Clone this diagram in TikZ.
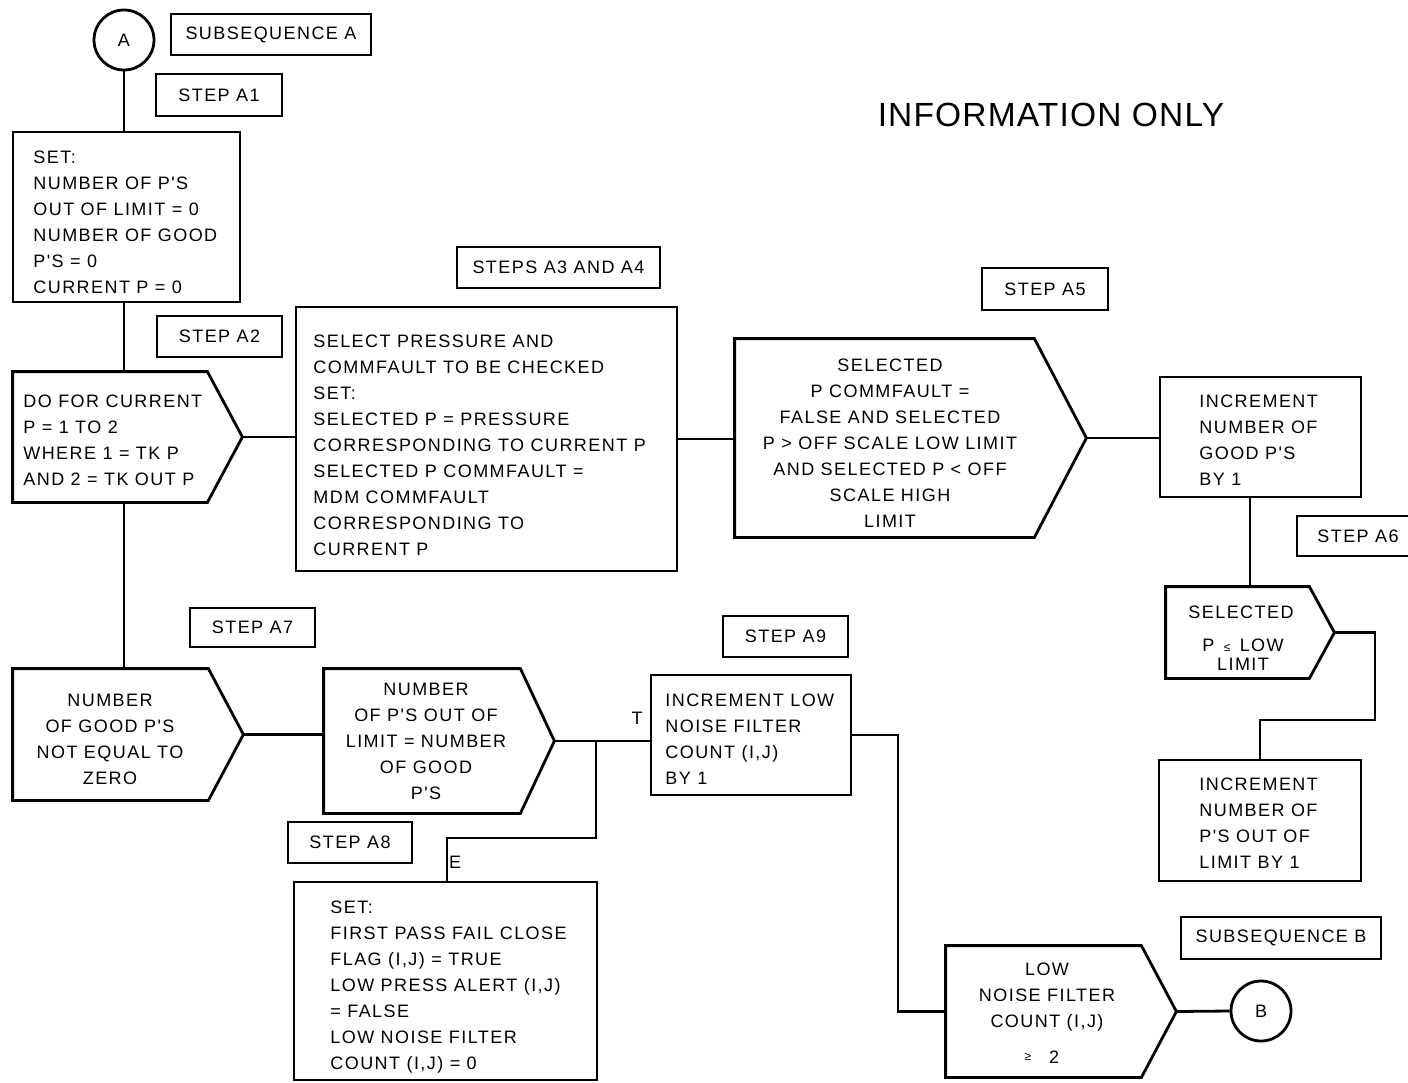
\documentclass[tikz,border=0pt]{standalone}
\usepackage{fontspec}
\setmainfont{Liberation Sans}[Ligatures=TeXOff, LetterSpace=8]
\usetikzlibrary{fit}
\newcommand\pentpath[2]{\draw[ln] (#1.north west) -- ([xshift=-#2]#1.north east) -- (#1.east) -- ([xshift=-#2]#1.south east) -- (#1.south west) -- cycle;}
\begin{document}
\begin{tikzpicture}[x=0.5pt,y=-0.5pt,
  ln/.style={line width=1.4pt, line join=miter},
  box/.style={draw, line width=1.4pt, inner sep=0pt},
  shp/.style={inner sep=0pt},
  circ/.style={circle, draw, line width=1.4pt, minimum size=30pt, inner sep=0pt, font=\fontsize{9}{13}\selectfont},
  txt/.style={inner sep=0pt, font=\fontsize{9}{13}\selectfont, align=left},
  ctxt/.style={txt, align=center},
  small/.style={inner sep=0pt, font=\fontsize{6}{7}\selectfont}]
\useasboundingbox (0,0) rectangle (1408,1082);

% start circle and labels
\node[circ] (cA) at (124,40) {A};
\node[box, fit={(171,14) (371,55)}] (lsubA) {};
\node[ctxt] (tsubA) at (lsubA.center) {SUBSEQUENCE A};
\node[box, fit={(156,74) (282,116)}] (lA1) {};
\node[ctxt] (tA1) at (lA1.center) {STEP A1};

\node[inner sep=0pt, font=\fontsize{16.75}{20}\selectfont\addfontfeature{LetterSpace=3.5}] (info) at (1051,115) {INFORMATION ONLY};

% A1 box
\node[box, fit={(13,132) (240,302)}] (a1) {};
\node[txt, anchor=west] (ta1) at (33,222) {SET:\\NUMBER OF P'S\\OUT OF LIMIT = 0\\NUMBER OF GOOD\\P'S = 0\\CURRENT P = 0};

% A2
\node[box, fit={(157,316) (282,357)}] (lA2) {};
\node[ctxt] (tA2) at (lA2.center) {STEP A2};
\node[shp, fit={(13,372) (242,502)}] (a2) {};
\pentpath{a2}{17.5pt}
\node[txt, anchor=west] (ta2) at (23,440) {DO FOR CURRENT\\P = 1 TO 2\\WHERE 1 = TK P\\AND 2 = TK OUT P};

% A3
\node[box, fit={(457,247) (660,288)}] (lA3) {};
\node[ctxt] (tA3) at (lA3.center) {STEPS A3 AND A4};
\node[box, fit={(296,307) (677,571)}] (a3) {};
\node[txt, anchor=west] (ta3) at (313,445) {SELECT PRESSURE AND\\COMMFAULT TO BE CHECKED\\SET:\\SELECTED P = PRESSURE\\CORRESPONDING TO CURRENT P\\SELECTED P COMMFAULT =\\MDM COMMFAULT\\CORRESPONDING TO\\CURRENT P};

% A5
\node[box, fit={(982,268) (1108,310)}] (lA5) {};
\node[ctxt] (tA5) at (lA5.center) {STEP A5};
\node[shp, fit={(735,339) (1086,537)}] (a5) {};
\pentpath{a5}{26pt}
\node[ctxt] (ta5) at (890,443) {SELECTED\\P COMMFAULT =\\FALSE AND SELECTED\\P > OFF SCALE LOW LIMIT\\AND SELECTED P < OFF\\SCALE HIGH\\LIMIT};

% A6
\node[box, fit={(1160,377) (1361,497)}] (a6) {};
\node[txt, anchor=west] (ta6) at (1199,440) {INCREMENT\\NUMBER OF\\GOOD P'S\\BY 1};
\node[box, fit={(1297,516) (1420,556)}] (lA6) {};
\node[ctxt] (tA6) at (1358,536) {STEP A6};
\node[shp, fit={(1166,587) (1334,678)}] (a6b) {};
\pentpath{a6b}{12.5pt}
\node[ctxt] (ta6b1) at (1241,612) {SELECTED};
\node[ctxt] (ta6b2) at (1243,645) {P \,{\fontsize{6}{7}\selectfont ≤}\, LOW};
\node[ctxt] (ta6b3) at (1243,664) {LIMIT};
\node[box, fit={(1159,760) (1361,881)}] (a6c) {};
\node[txt, anchor=west] (ta6c) at (1199,823) {INCREMENT\\NUMBER OF\\P'S OUT OF\\LIMIT BY 1};

% A7
\node[box, fit={(190,608) (315,647)}] (lA7) {};
\node[ctxt] (tA7) at (lA7.center) {STEP A7};
\node[shp, fit={(13,669) (243,800)}] (a7) {};
\pentpath{a7}{17.5pt}
\node[ctxt] (ta7) at (110,739) {NUMBER\\OF GOOD P'S\\NOT EQUAL TO\\ZERO};
\node[shp, fit={(324,669) (554,813)}] (p2) {};
\pentpath{p2}{17pt}
\node[ctxt] (tp2) at (426,741) {NUMBER\\OF P'S OUT OF\\LIMIT = NUMBER\\OF GOOD\\P'S};

% A9
\node[box, fit={(723,616) (848,657)}] (lA9) {};
\node[ctxt] (tA9) at (lA9.center) {STEP A9};
\node[box, fit={(651,675) (851,795)}] (a9) {};
\node[txt, anchor=west] (ta9) at (665,739) {INCREMENT LOW\\NOISE FILTER\\COUNT (I,J)\\BY 1};
\node[ctxt] (lT) at (637,718) {T};

% A8
\node[box, fit={(288,822) (412,863)}] (lA8) {};
\node[ctxt] (tA8) at (lA8.center) {STEP A8};
\node[box, fit={(294,882) (597,1080)}] (a8) {};
\node[txt, anchor=west] (ta8) at (330,987) {SET:\\FIRST PASS FAIL CLOSE\\FLAG (I,J) = TRUE\\LOW PRESS ALERT (I,J)\\= FALSE\\LOW NOISE FILTER\\COUNT (I,J) = 0};
\node[ctxt] (lE) at (455,862) {E};

% low noise decision
\node[box, fit={(1181,917) (1381,959)}] (lsubB) {};
\node[ctxt] (tsubB) at (lsubB.center) {SUBSEQUENCE B};
\node[shp, fit={(946,946) (1176,1077)}] (lnz) {};
\pentpath{lnz}{17.5pt}
\node[ctxt] (tlnz) at (1047,997) {LOW\\NOISE FILTER\\COUNT (I,J)};
\node[small] (tge) at (1028,1057) {≥};
\node[ctxt] (ttwo) at (1054,1057) {2};
\node[circ] (cB) at (1261,1011) {B};

% connectors
\coordinate (j1) at (1375,720);
\coordinate (br) at (596,741);
\coordinate (bk) at (447,838);
\coordinate (jx) at (898,900);
\draw[ln] (cA.south) -- (cA.south |- a1.north);
\draw[ln] (cA |- a1.south) -- (cA |- a2.north);
\draw[ln] (cA |- a2.south) -- (cA |- a7.north);
\draw[ln] (a2.east) -- (a2.east -| a3.west);
\draw[ln] (a3.east) -- (a3.east -| a5.west);
\draw[ln] (a5.east) -- (a5.east -| a6.west);
\draw[ln] (a6.south -| a6b.north) -- (a6b.north);
\draw[ln] (a6b.east) -| (j1) -| (a6c.north);
\draw[ln] (a7.east) -- (a7.east -| p2.west);
\draw[ln] (p2.east) -- (p2.east -| a9.west);
\draw[ln] (br) |- (bk) -- (bk |- a8.north);
\draw[ln] (a9.east) -| (jx) |- (lnz.west);
\draw[ln] (lnz.east) -- (cB.west);
\end{tikzpicture}
\end{document}
